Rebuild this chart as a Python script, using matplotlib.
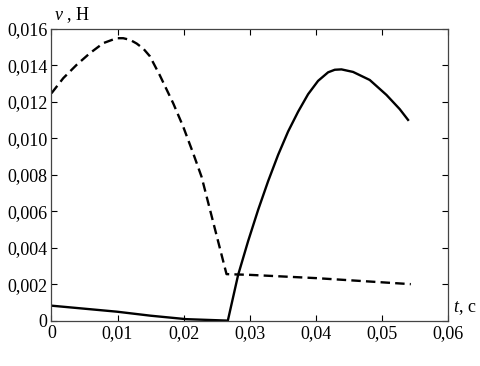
import matplotlib
matplotlib.use("Agg")
import matplotlib.pyplot as plt

# dashed curve
t_dash = [0.0, 0.00179, 0.00381, 0.00582, 0.00784, 0.00986, 0.01086, 0.01190, 0.01289, 0.01390,
          0.01490, 0.01641, 0.01843, 0.01994, 0.02145, 0.02272, 0.0265, 0.0300, 0.0401, 0.0544]
v_dash = [0.01247, 0.0133, 0.01403, 0.01467, 0.01522, 0.01549, 0.01549, 0.01540, 0.01520, 0.01492,
          0.01450, 0.01345, 0.01192, 0.01064, 0.00918, 0.00789, 0.00255, 0.00251, 0.00233, 0.0020]

# solid curve
t_solid = [0.0, 0.0099, 0.0150, 0.0204, 0.0267, 0.02826, 0.02977, 0.03129, 0.0328, 0.03431,
           0.03582, 0.03734, 0.03885, 0.04036, 0.04188, 0.04289, 0.0439, 0.04566, 0.04818,
           0.05071, 0.05272, 0.05398]
v_solid = [0.00082, 0.00049, 0.00027, 0.00008, 0.0, 0.00251, 0.00436, 0.00608, 0.00765, 0.00909,
           0.01037, 0.01146, 0.01242, 0.01315, 0.01362, 0.01376, 0.01378, 0.01364, 0.0132,
           0.01238, 0.01160, 0.01101]

x_ticks = [0, 0.01, 0.02, 0.03, 0.04, 0.05, 0.06]
x_labels = ["0", "0,01", "0,02", "0,03", "0,04", "0,05", "0,06"]
y_ticks = [0, 0.002, 0.004, 0.006, 0.008, 0.010, 0.012, 0.014, 0.016]
y_labels = ["0", "0,002", "0,004", "0,006", "0,008", "0,010", "0,012", "0,014", "0,016"]

plt.rcParams['font.family'] = ['Liberation Serif', 'DejaVu Serif']
plt.rcParams['mathtext.fontset'] = 'custom'
plt.rcParams['mathtext.rm'] = 'Liberation Serif'
plt.rcParams['mathtext.it'] = 'Liberation Serif:italic'

fig = plt.figure(figsize=(4.81, 3.66), dpi=100)
ax = fig.add_axes([0.107, 0.124, 0.824, 0.797])

ax.plot(t_dash, v_dash, color='black', lw=1.7, linestyle=(0, (4, 2.2)))
ax.plot(t_solid, v_solid, color='black', lw=1.7)

ax.set_xlim(0, 0.06)
ax.set_ylim(0, 0.016)
ax.set_xticks(x_ticks)
ax.set_xticklabels(x_labels)
ax.set_yticks(y_ticks)
ax.set_yticklabels(y_labels)
ax.tick_params(direction='in', top=True, right=True, length=4, width=0.8,
               labelsize=13, pad=3, colors='black')
for s in ax.spines.values():
    s.set_linewidth(0.9)
    s.set_color('#444444')

fig.text(0.113, 0.945, "$\\mathit{v}$ , H", fontsize=13, ha='left', va='baseline')
ax.text(1.012, 0.03, "$\\mathit{t}$, c", transform=ax.transAxes, fontsize=13, ha='left', va='baseline')

fig.savefig("out.png", dpi=100)
